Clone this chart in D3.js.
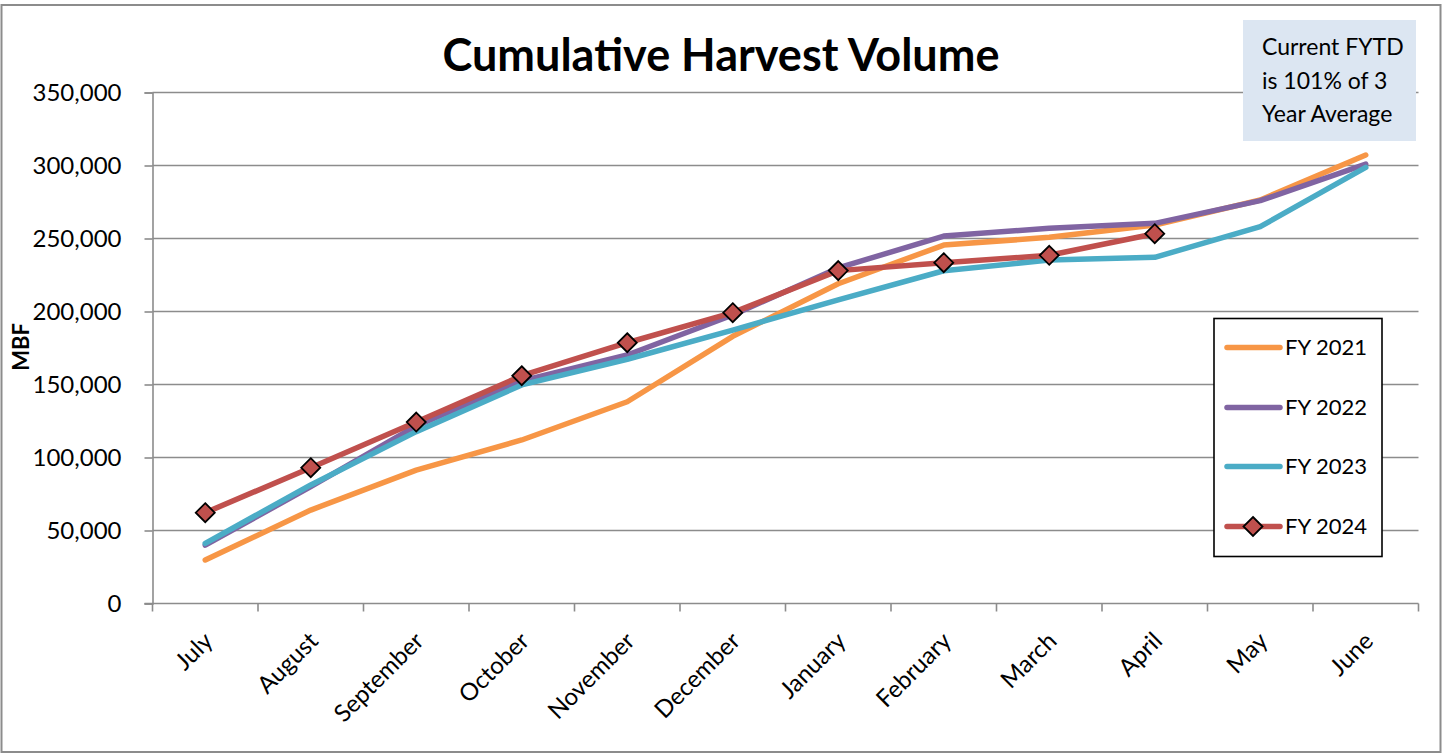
<!DOCTYPE html>
<html>
<head>
<meta charset="utf-8">
<script src="https://cdn.jsdelivr.net/npm/d3@7"></script>
<style>
  html, body { margin: 0; padding: 0; background: #fff; }
  svg text { font-family: Lato, "Open Sans", sans-serif; fill: #000; }
</style>
</head>
<body>
<svg id="chart" width="1445" height="754"></svg>
<script>
// ---- data ----
const categories = ["July","August","September","October","November","December","January","February","March","April","May","June"];
const fy2021 = [29800, 64000, 91400, 112000, 138200, 183000, 219000, 245500, 250800, 259200, 276400, 307200];
const fy2022 = [40000, 80000, 121600, 152400, 170200, 197600, 229800, 251700, 257000, 260400, 275900, 301000];
const fy2023 = [41200, 81200, 117700, 149700, 167300, 187300, 207900, 227900, 235300, 237100, 258100, 298700];
const fy2024 = [62200, 93000, 124300, 156000, 178600, 199200, 228000, 233400, 238500, 253300];
const yTicks = [0, 50000, 100000, 150000, 200000, 250000, 300000, 350000];
const seriesNames = ["FY 2021", "FY 2022", "FY 2023", "FY 2024"];
const seriesColors = ["#F79646", "#8064A2", "#4BACC6", "#C0504D"];
const titleText = "Cumulative Harvest Volume";
const yAxisTitle = "MBF";
const noteLines = ["Current FYTD", "is 101% of 3", "Year Average"];

const series = [fy2021, fy2022, fy2023, fy2024];

const svg = d3.select("#chart");
const plot = {left: 152.5, right: 1418.5, top: 92.5, bottom: 603.5};

// outer border
svg.append("rect").attr("x", 1.5).attr("y", 5).attr("width", 1439).attr("height", 747)
  .attr("fill", "#fff").attr("stroke", "#8c8c8c").attr("stroke-width", 2);

const x = d3.scaleBand().domain(categories).range([plot.left, plot.right]).paddingInner(0).paddingOuter(0);
const y = d3.scaleLinear().domain([0, 350000]).range([plot.bottom, plot.top]);
const cx = d => x(d) + x.bandwidth() / 2;

// gridlines
svg.append("g").selectAll("line").data(yTicks.filter(d => d > 0)).join("line")
  .attr("x1", plot.left).attr("x2", plot.right)
  .attr("y1", d => y(d)).attr("y2", d => y(d))
  .attr("stroke", "#8c8c8c").attr("stroke-width", 1.6);

// y axis
const yAxis = svg.append("g").attr("transform", `translate(${plot.left},0)`)
  .call(d3.axisLeft(y).tickValues(yTicks).tickFormat(d3.format(",")).tickSize(8).tickPadding(23));
yAxis.select(".domain").attr("stroke", "#8c8c8c").attr("stroke-width", 1.6);
yAxis.selectAll(".tick line").attr("stroke", "#8c8c8c").attr("stroke-width", 1.6);
yAxis.selectAll(".tick text").attr("font-size", 24).attr("font-family", "Lato, sans-serif").attr("fill", "#000");

// x axis
const xAxisG = svg.append("g");
xAxisG.append("line").attr("x1", plot.left - 8).attr("x2", plot.right)
  .attr("y1", plot.bottom).attr("y2", plot.bottom)
  .attr("stroke", "#8c8c8c").attr("stroke-width", 1.6);
const bounds = categories.map(c => x(c)).concat([x.range()[1]]);
xAxisG.selectAll("line.tk").data(bounds).join("line").attr("class", "tk")
  .attr("x1", d => d).attr("x2", d => d)
  .attr("y1", plot.bottom).attr("y2", plot.bottom + 8)
  .attr("stroke", "#8c8c8c").attr("stroke-width", 1.6);
xAxisG.selectAll("text").data(categories).join("text")
  .attr("transform", d => `translate(${cx(d) + 3},${plot.bottom + 33}) rotate(-45)`)
  .attr("text-anchor", "end").attr("dy", "0.35em")
  .attr("font-size", 24).text(d => d);

// y axis title
svg.append("text").attr("transform", "translate(29,347) rotate(-90)")
  .attr("text-anchor", "middle").attr("font-size", 22).attr("font-weight", 700).text(yAxisTitle);

// title
svg.append("text").attr("x", 721).attr("y", 71).attr("text-anchor", "middle")
  .attr("font-size", 45).attr("font-weight", 700).text(titleText);

// lines
const line = d3.line().x((d, i) => cx(categories[i])).y(d => y(d));
series.forEach((s, k) => {
  svg.append("path").datum(s).attr("d", line)
    .attr("fill", "none").attr("stroke", seriesColors[k]).attr("stroke-width", 5.5)
    .attr("stroke-linejoin", "round").attr("stroke-linecap", "round");
});

// markers for FY 2024
const diamond = (px, py, r) => `M${px},${py - r}L${px + r},${py}L${px},${py + r}L${px - r},${py}Z`;
svg.append("g").selectAll("path").data(fy2024).join("path")
  .attr("d", (d, i) => diamond(cx(categories[i]), y(d), 9.5))
  .attr("fill", "#C0504D").attr("stroke", "#000").attr("stroke-width", 1.8);

// note box
svg.append("rect").attr("x", 1243).attr("y", 20).attr("width", 173).attr("height", 121).attr("fill", "#DCE6F2");
svg.append("g").selectAll("text").data(noteLines).join("text")
  .attr("x", 1262).attr("y", (d, i) => 55 + i * 33.5)
  .attr("font-size", 23).text(d => d);

// legend
const lg = svg.append("g");
lg.append("rect").attr("x", 1214).attr("y", 318.5).attr("width", 168).attr("height", 238)
  .attr("fill", "#fff").attr("stroke", "#000").attr("stroke-width", 1.6);
const legY = [347.5, 407.5, 466.5, 526.5];
seriesNames.forEach((n, k) => {
  lg.append("line").attr("x1", 1227).attr("x2", 1280).attr("y1", legY[k]).attr("y2", legY[k])
    .attr("stroke", seriesColors[k]).attr("stroke-width", 5.5).attr("stroke-linecap", "round");
  if (k === 3) {
    lg.append("path").attr("d", diamond(1253, legY[k], 9.5))
      .attr("fill", "#C0504D").attr("stroke", "#000").attr("stroke-width", 1.8);
  }
  lg.append("text").attr("x", 1285).attr("y", legY[k]).attr("dy", "0.36em")
    .attr("font-size", 22).text(n);
});
</script>
</body>
</html>
